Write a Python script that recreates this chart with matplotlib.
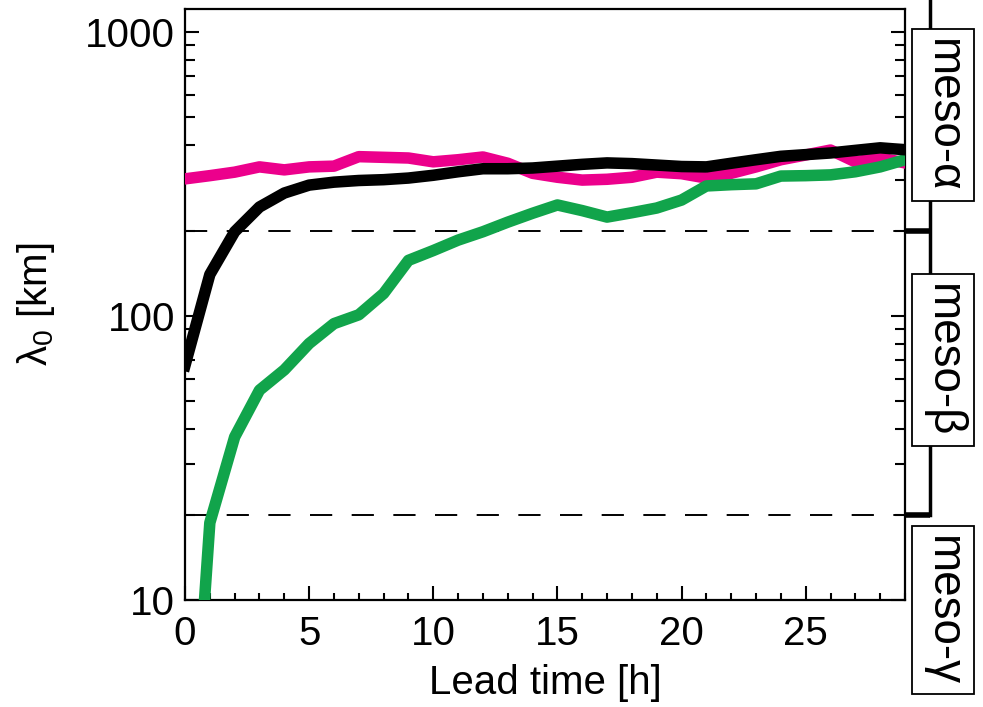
import matplotlib
matplotlib.use("Agg")
import matplotlib.pyplot as plt
import matplotlib.transforms as mtransforms
from matplotlib.ticker import FixedLocator, NullFormatter, LogLocator

plt.rcParams['font.family'] = ['Liberation Sans', 'DejaVu Sans']
plt.rcParams['mathtext.fontset'] = 'custom'
plt.rcParams['mathtext.rm'] = 'Liberation Sans'
plt.rcParams['mathtext.it'] = 'Liberation Sans'
plt.rcParams['lines.scale_dashes'] = False

# ---- data ----
lead_time = list(range(0, 30))
black_vals = [67, 140, 198, 242, 271, 289, 296, 300, 302, 306,
              313, 322, 330, 330, 332, 337, 342, 346, 344, 340,
              336, 335, 345, 355, 365, 370, 375, 383, 391, 385]
magenta_vals = [304, 312, 321, 335, 327, 335, 337, 364, 362, 360,
                349, 355, 363, 345, 318, 308, 301, 303, 308, 321,
                317, 306, 318, 335, 355, 369, 384, 349, 360, 346]
green_vals = [1.0, 18.7, 37.5, 54.8, 64.6, 80, 94, 101, 120, 157,
              170, 185, 198, 214, 230, 246, 235, 223, 231, 240,
              256, 287, 290, 292, 311, 312, 314, 322, 335, 355]
thresholds = [200, 20]
scale_labels = ['meso-α', 'meso-β', 'meso-γ']
x_major = [0, 5, 10, 15, 20, 25]
y_major = [10, 100, 1000]

W, H = 983, 707
fig = plt.figure(figsize=(W / 100, H / 100), dpi=100)
ax = fig.add_axes([185 / W, 1 - 600 / H, 720 / W, 591 / H])

ax.plot(lead_time, magenta_vals, color='#EC008C', lw=8.3, solid_joinstyle='round', zorder=3)
ax.plot(lead_time, green_vals, color='#11A44B', lw=8.3, solid_joinstyle='round', zorder=4)
ax.plot(lead_time, black_vals, color='black', lw=8.3, solid_joinstyle='round', zorder=5)

for th in thresholds:
    ax.axhline(th, color='black', lw=1.4, dashes=(16, 14), zorder=2)

ax.set_yscale('log')
ax.set_xlim(0, 29)
ax.set_ylim(10, 1205)
ax.xaxis.set_major_locator(FixedLocator(x_major))
ax.xaxis.set_minor_locator(FixedLocator(range(0, 30)))
ax.yaxis.set_major_locator(FixedLocator(y_major))
ax.yaxis.set_minor_locator(LogLocator(base=10, subs=range(2, 10)))
ax.yaxis.set_minor_formatter(NullFormatter())
ax.set_yticklabels([str(v) for v in y_major])

ax.tick_params(axis='both', which='both', direction='in', width=1.5, labelsize=29,
               top=False, right=True)
ax.tick_params(axis='y', which='major', length=10, pad=7)
ax.tick_params(axis='y', which='minor', length=7)
ax.tick_params(axis='x', which='major', length=10, pad=11)
ax.tick_params(axis='x', which='minor', length=5)
for sp in ax.spines.values():
    sp.set_linewidth(1.6)

ax.set_xlabel('Lead time [h]', fontsize=29, labelpad=8)
ax.set_ylabel(r'$\mathregular{\lambda_0}$ [km]', fontsize=29, labelpad=20)

# right-hand scale annotation
trans = mtransforms.blended_transform_factory(ax.transAxes, ax.transData)
xline = (930 - 185) / 720
ax.plot([xline, xline], [thresholds[1], 1400], transform=trans, color='black',
        lw=2.5, clip_on=False, zorder=1)
for th in thresholds:
    ax.plot([1.0, xline], [th, th], transform=trans, color='black', lw=4,
            clip_on=False, solid_capstyle='butt')

box_centers_px = [115, 360, 610]
for lab, yc in zip(scale_labels, box_centers_px):
    fig.text(943 / W, 1 - yc / H, lab, rotation=-90, fontsize=33,
             ha='center', va='center', rotation_mode='anchor',
             bbox=dict(boxstyle='square,pad=0.2', fc='white', ec='black', lw=1.3),
             zorder=10)

fig.savefig('out.png', dpi=100)
